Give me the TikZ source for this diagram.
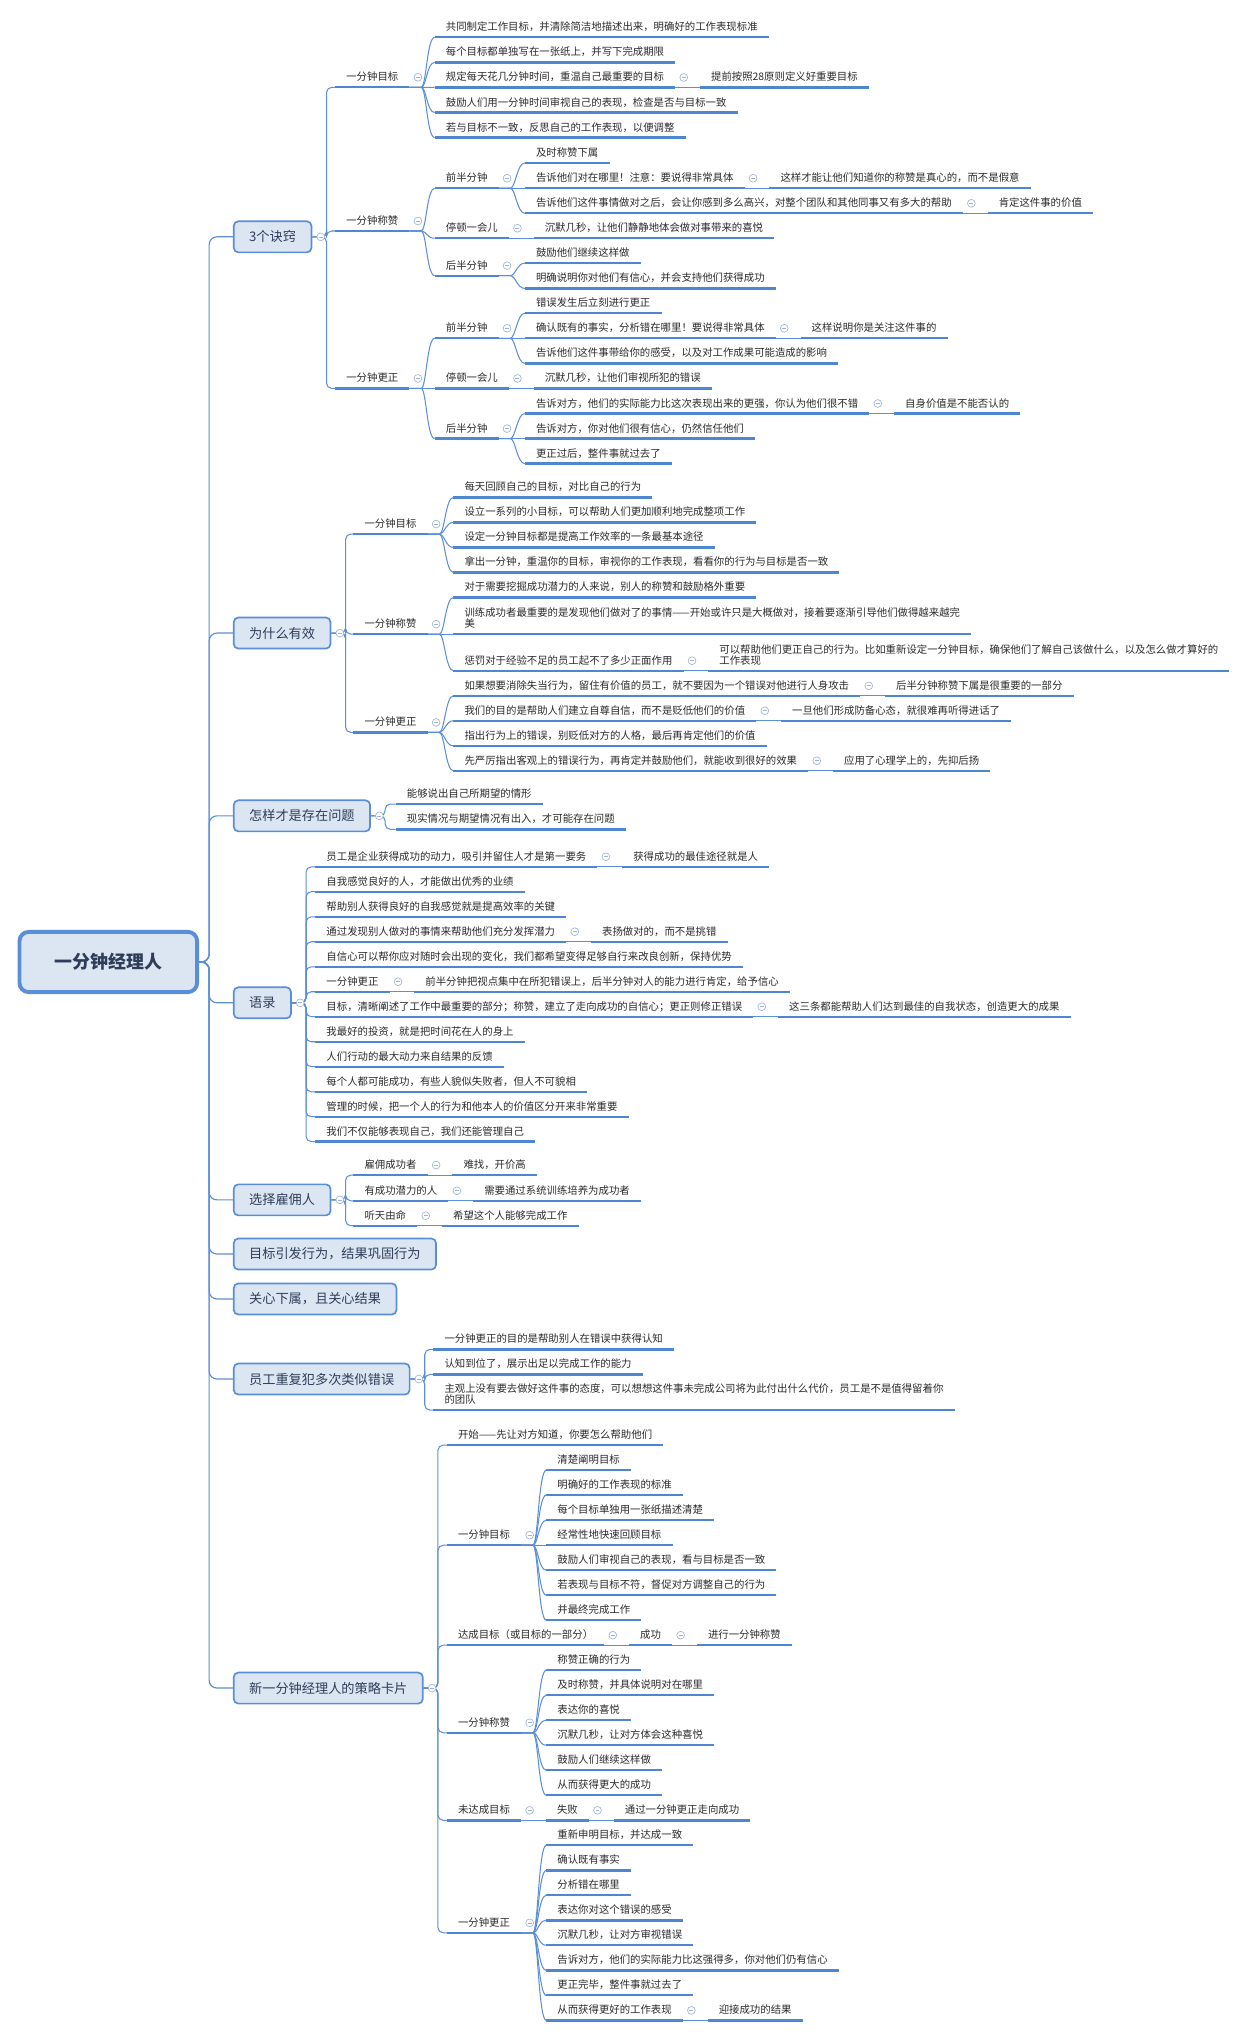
\documentclass[tikz,border=0pt]{standalone}
\usepackage{fontspec}
\setmainfont{Noto Sans CJK SC}
\usetikzlibrary{positioning}

\definecolor{lineblue}{HTML}{5B8FD8}
\definecolor{ulblue}{HTML}{4F86D0}
\definecolor{boxblue}{HTML}{5A8ED8}
\definecolor{boxfill}{HTML}{DCE6F3}
\definecolor{topicink}{HTML}{2E3D58}
\definecolor{inkgray}{HTML}{2B2B2B}
\definecolor{foldgray}{HTML}{9FB3D8}

\tikzset{
  uline/.style={draw=ulblue, line width=1.8pt},
  leafcore/.style={anchor=south west, inner xsep=8.4pt, font=\fontsize{8}{8.5}\selectfont, text=inkgray,
    append after command={(\tikzlastnode.south west) edge[uline] (\tikzlastnode.south east)}},
  leaf/.style={leafcore, inner ysep=3.6pt, text height=6.4pt, text depth=1.2pt},
  leaftwo/.style={leafcore, inner ysep=4.2pt, align=left},
  extof/.style={right=19pt of #1.south east, anchor=south west},
  topic/.style={draw=boxblue, line width=1.3pt, fill=boxfill, rounded corners=3.5pt, anchor=west,
    minimum height=23.9pt, inner xsep=11.85pt, font=\fontsize{10.15}{12}\selectfont, text=topicink},
  rootbox/.style={draw=boxblue, line width=3pt, fill=boxfill, rounded corners=7pt, minimum width=136.7pt,
    minimum height=46.3pt, font=\fontsize{13.8}{16}\selectfont\bfseries, text=topicink},
  trunk/.style={draw=lineblue, line width=0.9pt, rounded corners=6pt, to path={-- ++(7.8,0) |- (\tikztotarget)}},
  elbow/.style={draw=lineblue, line width=0.8pt, rounded corners=4pt, to path={-- ++(11,0) |- (\tikztotarget)}},
  branch/.style={draw=lineblue, line width=0.8pt, to path={-- ++(9,0) .. controls +(4,0) and +(-6,0) .. (\tikztotarget)}},
  link/.style={draw=lineblue, line width=0.8pt},
  foldbtn/.pic={\draw[draw=foldgray, fill=white, line width=0.5pt] (0,0) circle (3);
    \draw[foldgray, line width=0.5pt] (-1.5,0) -- (1.5,0);}
}

\begin{document}
\begin{tikzpicture}[x=1pt, y=-1pt]
  \useasboundingbox (0,0) rectangle (950,1568);
  \fill[white] (0,0) rectangle (950,1568);

  \node[rootbox] (root) at (83.35,740.5) {一分钟经理人};
  \node[topic] (jq) at (179.3,182.3) {3个诀窍};
  \node[topic] (yx) at (179.3,487.3) {为什么有效};
  \node[topic] (wt) at (179.3,628) {怎样才是存在问题};
  \node[topic] (yl) at (179.3,771.9) {语录};
  \node[topic] (gy) at (179.3,923.6) {选择雇佣人};
  \node[topic] (mb) at (179.3,965.3) {目标引发行为，结果巩固行为};
  \node[topic] (gx) at (179.3,999.9) {关心下属，且关心结果};
  \node[topic] (cw) at (179.3,1061.5) {员工重复犯多次类似错误};
  \node[topic] (kp) at (179.3,1299.4) {新一分钟经理人的策略卡片};
  \foreach \t in {jq,yx,wt,yl,gy,mb,gx,cw,kp}
    \draw[trunk] (root.east) to (\t.west);

  \node[leaf] (jq1) at (258,67.2) {一分钟目标};
  \node[leaf] (jq2) at (258,177.8) {一分钟称赞};
  \node[leaf] (jq3) at (258,299) {一分钟更正};
  \node[leaf] (jq1a) at (334.6,28.7) {共同制定工作目标，并清除简洁地描述出来，明确好的工作表现标准};
  \node[leaf] (jq1b) at (334.6,48) {每个目标都单独写在一张纸上，并写下完成期限};
  \node[leaf] (jq1c) at (334.6,67.3) {规定每天花几分钟时间，重温自己最重要的目标};
  \node[leaf, extof=jq1c] (jq1c1) {提前按照28原则定义好重要目标};
  \node[leaf] (jq1d) at (334.6,86.6) {鼓励人们用一分钟时间审视自己的表现，检查是否与目标一致};
  \node[leaf] (jq1e) at (334.6,105.9) {若与目标不一致，反思自己的工作表现，以便调整};
  \node[leaf] (jq2a) at (334.6,144.9) {前半分钟};
  \node[leaf] (jq2a1) at (404,125.4) {及时称赞下属};
  \node[leaf] (jq2a2) at (404,144.9) {告诉他们对在哪里！注意：要说得非常具体};
  \node[leaf, extof=jq2a2] (jq2a2a) {这样才能让他们知道你的称赞是真心的，而不是假意};
  \node[leaf] (jq2a3) at (404,164.2) {告诉他们这件事情做对之后，会让你感到多么高兴，对整个团队和其他同事又有多大的帮助};
  \node[leaf, extof=jq2a3] (jq2a3a) {肯定这件事的价值};
  \node[leaf] (jq2b) at (334.6,183.4) {停顿一会儿};
  \node[leaf, extof=jq2b] (jq2b1) {沉默几秒，让他们静静地体会做对事带来的喜悦};
  \node[leaf] (jq2c) at (334.6,212.2) {后半分钟};
  \node[leaf] (jq2c1) at (404,202.6) {鼓励他们继续这样做};
  \node[leaf] (jq2c2) at (404,222) {明确说明你对他们有信心，并会支持他们获得成功};
  \node[leaf] (jq3a) at (334.6,260.4) {前半分钟};
  \node[leaf] (jq3a1) at (404,241.1) {错误发生后立刻进行更正};
  \node[leaf] (jq3a2) at (404,260.4) {确认既有的事实，分析错在哪里！要说得非常具体};
  \node[leaf, extof=jq3a2] (jq3a2a) {这样说明你是关注这件事的};
  \node[leaf] (jq3a3) at (404,279.7) {告诉他们这件事带给你的感受，以及对工作成果可能造成的影响};
  \node[leaf] (jq3b) at (334.6,299) {停顿一会儿};
  \node[leaf, extof=jq3b] (jq3b1) {沉默几秒，让他们审视所犯的错误};
  \node[leaf] (jq3c) at (334.6,337.6) {后半分钟};
  \node[leaf] (jq3c1) at (404,318.3) {告诉对方，他们的实际能力比这次表现出来的更强，你认为他们很不错};
  \node[leaf, extof=jq3c1] (jq3c1a) {自身价值是不能否认的};
  \node[leaf] (jq3c2) at (404,337.6) {告诉对方，你对他们很有信心，仍然信任他们};
  \node[leaf] (jq3c3) at (404,356.9) {更正过后，整件事就过去了};

  \node[leaf] (yx1) at (272,411.1) {一分钟目标};
  \node[leaf] (yx2) at (272,488.1) {一分钟称赞};
  \node[leaf] (yx3) at (272,563.8) {一分钟更正};
  \node[leaf] (yx1a) at (349,382.9) {每天回顾自己的目标，对比自己的行为};
  \node[leaf] (yx1b) at (349,402.1) {设立一系列的小目标，可以帮助人们更加顺利地完成整项工作};
  \node[leaf] (yx1c) at (349,421.4) {设定一分钟目标都是提高工作效率的一条最基本途径};
  \node[leaf] (yx1d) at (349,440.6) {拿出一分钟，重温你的目标，审视你的工作表现，看看你的行为与目标是否一致};
  \node[leaf] (yx2a) at (349,459.9) {对于需要挖掘成功潜力的人来说，别人的称赞和鼓励格外重要};
  \node[leaftwo] (yx2b) at (349,488.1) {训练成功者最重要的是发现他们做对了的事情——开始或许只是大概做对，接着要逐渐引导他们做得越来越完\\美};
  \node[leaf] (yx2c) at (349,516.3) {惩罚对于经验不足的员工起不了多少正面作用};
  \node[leaftwo, extof=yx2c] (yx2c1) {可以帮助他们更正自己的行为。比如重新设定一分钟目标，确保他们了解自己该做什么，以及怎么做才算好的\\工作表现};
  \node[leaf] (yx3a) at (349,535.6) {如果想要消除失当行为，留住有价值的员工，就不要因为一个错误对他进行人身攻击};
  \node[leaf, extof=yx3a] (yx3a1) {后半分钟称赞下属是很重要的一部分};
  \node[leaf] (yx3b) at (349,554.8) {我们的目的是帮助人们建立自尊自信，而不是贬低他们的价值};
  \node[leaf, extof=yx3b] (yx3b1) {一旦他们形成防备心态，就很难再听得进话了};
  \node[leaf] (yx3c) at (349,574.1) {指出行为上的错误，别贬低对方的人格，最后再肯定他们的价值};
  \node[leaf] (yx3d) at (349,593.3) {先严厉指出客观上的错误行为，再肯定并鼓励他们，就能收到很好的效果};
  \node[leaf, extof=yx3d] (yx3d1) {应用了心理学上的，先抑后扬};

  \node[leaf] (wt1) at (304.6,618.9) {能够说出自己所期望的情形};
  \node[leaf] (wt2) at (304.6,638.4) {现实情况与期望情况有出入，才可能存在问题};

  \node[leaf] (yl1) at (242.7,667.2) {员工是企业获得成功的动力，吸引并留住人才是第一要务};
  \node[leaf, extof=yl1] (yl1a) {获得成功的最佳途径就是人};
  \node[leaf] (yl2) at (242.7,686.4) {自我感觉良好的人，才能做出优秀的业绩};
  \node[leaf] (yl3) at (242.7,705.7) {帮助别人获得良好的自我感觉就是提高效率的关键};
  \node[leaf] (yl4) at (242.7,724.9) {通过发现别人做对的事情来帮助他们充分发挥潜力};
  \node[leaf, extof=yl4] (yl4a) {表扬做对的，而不是挑错};
  \node[leaf] (yl5) at (242.7,744.2) {自信心可以帮你应对随时会出现的变化，我们都希望变得足够自行来改良创新，保持优势};
  \node[leaf] (yl6) at (242.7,763.4) {一分钟更正};
  \node[leaf, extof=yl6] (yl6a) {前半分钟把视点集中在所犯错误上，后半分钟对人的能力进行肯定，给予信心};
  \node[leaf] (yl7) at (242.7,782.6) {目标，清晰阐述了工作中最重要的部分；称赞，建立了走向成功的自信心；更正则修正错误};
  \node[leaf, extof=yl7] (yl7a) {这三条都能帮助人们达到最佳的自我状态，创造更大的成果};
  \node[leaf] (yl8) at (242.7,801.9) {我最好的投资，就是把时间花在人的身上};
  \node[leaf] (yl9) at (242.7,821.1) {人们行动的最大动力来自结果的反馈};
  \node[leaf] (yl10) at (242.7,840.4) {每个人都可能成功，有些人貌似失败者，但人不可貌相};
  \node[leaf] (yl11) at (242.7,859.6) {管理的时候，把一个人的行为和他本人的价值区分开来非常重要};
  \node[leaf] (yl12) at (242.7,878.8) {我们不仅能够表现自己，我们还能管理自己};

  \node[leaf] (gy1) at (272,904.5) {雇佣成功者};
  \node[leaf, extof=gy1] (gy1a) {难找，开价高};
  \node[leaf] (gy2) at (272,924.3) {有成功潜力的人};
  \node[leaf, extof=gy2] (gy2a) {需要通过系统训练培养为成功者};
  \node[leaf] (gy3) at (272,943.5) {听天由命};
  \node[leaf, extof=gy3] (gy3a) {希望这个人能够完成工作};

  \node[leaf] (cw1) at (333.6,1038.7) {一分钟更正的目的是帮助别人在错误中获得认知};
  \node[leaf] (cw2) at (333.6,1058) {认知到位了，展示出足以完成工作的能力};
  \node[leaftwo] (cw3) at (333.6,1085.4) {主观上没有要去做好这件事的态度，可以想想这件事未完成公司将为此付出什么代价，员工是不是值得留着你\\的团队};

  \node[leaf] (kp1) at (344,1112.4) {开始——先让对方知道，你要怎么帮助他们};
  \node[leaf] (kp2) at (344,1189.4) {一分钟目标};
  \node[leaf] (kp2a) at (420.5,1131.7) {清楚阐明目标};
  \node[leaf] (kp2b) at (420.5,1150.9) {明确好的工作表现的标准};
  \node[leaf] (kp2c) at (420.5,1170.2) {每个目标单独用一张纸描述清楚};
  \node[leaf] (kp2d) at (420.5,1189.4) {经常性地快速回顾目标};
  \node[leaf] (kp2e) at (420.5,1208.7) {鼓励人们审视自己的表现，看与目标是否一致};
  \node[leaf] (kp2f) at (420.5,1227.9) {若表现与目标不符，督促对方调整自己的行为};
  \node[leaf] (kp2g) at (420.5,1247.2) {并最终完成工作};
  \node[leaf] (kp3) at (344,1266.4) {达成目标（或目标的一部分）};
  \node[leaf, extof=kp3] (kp3a) {成功};
  \node[leaf, extof=kp3a] (kp3b) {进行一分钟称赞};
  \node[leaf] (kp4) at (344,1333.8) {一分钟称赞};
  \node[leaf] (kp4a) at (420.5,1285.7) {称赞正确的行为};
  \node[leaf] (kp4b) at (420.5,1304.9) {及时称赞，并具体说明对在哪里};
  \node[leaf] (kp4c) at (420.5,1324.2) {表达你的喜悦};
  \node[leaf] (kp4d) at (420.5,1343.4) {沉默几秒，让对方体会这种喜悦};
  \node[leaf] (kp4e) at (420.5,1362.7) {鼓励人们继续这样做};
  \node[leaf] (kp4f) at (420.5,1381.9) {从而获得更大的成功};
  \node[leaf] (kp5) at (344,1401.2) {未达成目标};
  \node[leaf, extof=kp5] (kp5a) {失败};
  \node[leaf, extof=kp5a] (kp5b) {通过一分钟更正走向成功};
  \node[leaf] (kp6) at (344,1487.8) {一分钟更正};
  \node[leaf] (kp6a) at (420.5,1420.4) {重新申明目标，并达成一致};
  \node[leaf] (kp6b) at (420.5,1439.7) {确认既有事实};
  \node[leaf] (kp6c) at (420.5,1458.9) {分析错在哪里};
  \node[leaf] (kp6d) at (420.5,1478.2) {表达你对这个错误的感受};
  \node[leaf] (kp6e) at (420.5,1497.4) {沉默几秒，让对方审视错误};
  \node[leaf] (kp6f) at (420.5,1516.7) {告诉对方，他们的实际能力比这强得多，你对他们仍有信心};
  \node[leaf] (kp6g) at (420.5,1535.9) {更正完毕，整件事就过去了};
  \node[leaf] (kp6h) at (420.5,1555.2) {从而获得更好的工作表现};
  \node[leaf, extof=kp6h] (kp6h1) {迎接成功的结果};

  \foreach \c in {jq1,jq2,jq3} \draw[elbow] (jq.east) to (\c.south west);
  \foreach \c in {yx1,yx2,yx3} \draw[elbow] (yx.east) to (\c.south west);
  \foreach \c in {wt1,wt2} \draw[elbow] (wt.east) to (\c.south west);
  \foreach \c in {yl1,yl2,yl3,yl4,yl5,yl6,yl7,yl8,yl9,yl10,yl11,yl12} \draw[elbow] (yl.east) to (\c.south west);
  \foreach \c in {gy1,gy2,gy3} \draw[elbow] (gy.east) to (\c.south west);
  \foreach \c in {cw1,cw2,cw3} \draw[elbow] (cw.east) to (\c.south west);
  \foreach \c in {kp1,kp2,kp3,kp4,kp5,kp6} \draw[elbow] (kp.east) to (\c.south west);

  \foreach \c in {jq1a,jq1b,jq1c,jq1d,jq1e} \draw[branch] (jq1.south east) to (\c.south west);
  \foreach \c in {jq2a,jq2b,jq2c} \draw[branch] (jq2.south east) to (\c.south west);
  \foreach \c in {jq2a1,jq2a2,jq2a3} \draw[branch] (jq2a.south east) to (\c.south west);
  \foreach \c in {jq2c1,jq2c2} \draw[branch] (jq2c.south east) to (\c.south west);
  \foreach \c in {jq3a,jq3b,jq3c} \draw[branch] (jq3.south east) to (\c.south west);
  \foreach \c in {jq3a1,jq3a2,jq3a3} \draw[branch] (jq3a.south east) to (\c.south west);
  \foreach \c in {jq3c1,jq3c2,jq3c3} \draw[branch] (jq3c.south east) to (\c.south west);
  \foreach \c in {yx1a,yx1b,yx1c,yx1d} \draw[branch] (yx1.south east) to (\c.south west);
  \foreach \c in {yx2a,yx2b,yx2c} \draw[branch] (yx2.south east) to (\c.south west);
  \foreach \c in {yx3a,yx3b,yx3c,yx3d} \draw[branch] (yx3.south east) to (\c.south west);
  \foreach \c in {kp2a,kp2b,kp2c,kp2d,kp2e,kp2f,kp2g} \draw[branch] (kp2.south east) to (\c.south west);
  \foreach \c in {kp4a,kp4b,kp4c,kp4d,kp4e,kp4f} \draw[branch] (kp4.south east) to (\c.south west);
  \foreach \c in {kp6a,kp6b,kp6c,kp6d,kp6e,kp6f,kp6g,kp6h} \draw[branch] (kp6.south east) to (\c.south west);

  \foreach \p/\c in {jq1c/jq1c1,jq2a2/jq2a2a,jq2a3/jq2a3a,jq2b/jq2b1,jq3a2/jq3a2a,jq3b/jq3b1,jq3c1/jq3c1a,
      yx2c/yx2c1,yx3a/yx3a1,yx3b/yx3b1,yx3d/yx3d1,yl1/yl1a,yl4/yl4a,yl6/yl6a,yl7/yl7a,
      gy1/gy1a,gy2/gy2a,gy3/gy3a,kp3/kp3a,kp3a/kp3b,kp5/kp5a,kp5a/kp5b,kp6h/kp6h1}
    \draw[link] (\p.south east) -- (\c.south west);

  \foreach \p in {jq,yx,wt,yl,gy,cw,kp}
    \pic at ([xshift=6.5pt]\p.east) {foldbtn};
  \foreach \p in {jq1,jq1c,jq2,jq2a,jq2a2,jq2a3,jq2b,jq2c,jq3,jq3a,jq3a2,jq3b,jq3c,jq3c1,
      yx1,yx2,yx2c,yx3,yx3a,yx3b,yx3d,yl1,yl4,yl6,yl7,gy1,gy2,gy3,kp2,kp3,kp3a,kp4,kp5,kp5a,kp6,kp6h}
    \pic at ([shift={(6.5,-7.7)}]\p.south east) {foldbtn};
\end{tikzpicture}
\end{document}
